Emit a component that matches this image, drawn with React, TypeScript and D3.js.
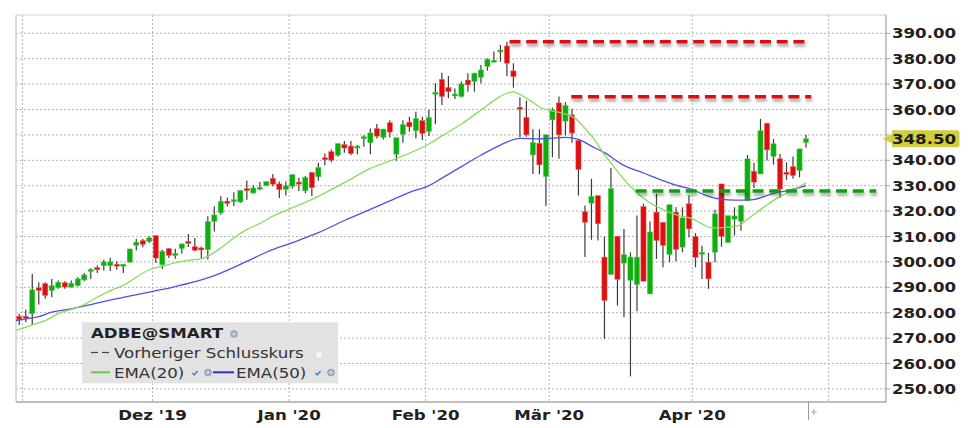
import React from 'react';
import * as d3 from 'd3';

// ---- Data ----
// Trading-day index 0 = 31 Oct 2019, last candle = index 121
const opens = [
  278.6, 278.6, 279.6, 289.8, 291.4, 288.7, 289.8, 291.8, 290.1, 290.7,
  292.9, 296.5, 297.7, 298.5, 298.5, 299.1, 298.7, 299.9, 306.5, 308.4,
  308.0, 310.3, 298.9, 305.2, 302.7, 305.2, 308.1, 306.0, 305.5, 304.8,
  316.0, 319.3, 323.9, 323.9, 323.6, 328.8, 327.1, 328.7, 330.0, 332.9,
  330.7, 328.5, 329.8, 331.4, 328.0, 335.2, 333.5, 341.0, 343.4, 342.0,
  346.2, 345.6, 345.1, 348.6, 346.9, 352.5, 349.0, 354.8, 342.4, 350.2,
  355.0, 351.6, 355.6, 351.3, 366.0, 371.9, 368.7, 365.5, 365.1, 371.6,
  371.0, 372.7, 376.9, 378.8, 382.8, 385.0, 375.2, 360.9, 356.9, 342.1,
  346.7, 333.6, 355.9, 362.6, 355.4, 357.9, 347.8, 319.8, 323.1, 326.1,
  301.9, 295.0, 310.1, 299.5, 292.7, 291.1, 321.8, 287.4, 319.6, 315.6,
  302.9, 319.6, 305.8, 322.9, 310.0, 303.3, 299.9, 303.8, 330.7, 307.7,
  316.8, 316.0, 324.1, 335.7, 334.6, 354.6, 341.5, 340.6, 335.3, 337.5,
  336.0, 347.0,
];
const highs = [
  279.6, 281.3, 295.3, 292.0, 292.0, 293.3, 292.7, 292.4, 292.7, 294.0,
  295.6, 297.5, 298.6, 300.8, 301.6, 300.3, 299.2, 305.2, 309.1, 309.1,
  310.0, 310.5, 304.8, 305.5, 305.2, 307.1, 311.0, 309.4, 306.1, 318.0,
  321.9, 325.8, 325.4, 327.4, 328.1, 332.0, 330.2, 331.5, 331.7, 334.6,
  331.7, 331.7, 334.4, 333.1, 333.8, 335.5, 339.0, 342.7, 344.3, 346.6,
  347.6, 347.6, 346.0, 349.9, 352.5, 354.3, 352.3, 355.8, 348.9, 355.8,
  357.1, 359.1, 357.1, 359.8, 370.3, 374.5, 373.2, 368.3, 371.0, 374.3,
  374.5, 377.5, 380.2, 382.8, 385.4, 386.7, 378.2, 364.8, 363.5, 352.2,
  352.2, 350.1, 360.7, 365.1, 362.9, 360.3, 347.8, 322.2, 332.7, 326.1,
  310.0, 337.0, 310.1, 313.0, 303.8, 318.3, 322.9, 315.9, 326.8, 315.6,
  322.5, 321.5, 321.5, 326.1, 311.3, 306.4, 303.5, 320.5, 330.7, 318.2,
  321.5, 322.4, 342.1, 339.0, 356.3, 354.6, 348.4, 342.5, 339.2, 341.5,
  344.5, 350.1,
];
const lows = [
  275.2, 276.3, 275.2, 283.2, 285.5, 286.1, 289.4, 289.4, 289.8, 290.3,
  292.4, 293.3, 295.6, 296.6, 296.4, 296.9, 295.6, 299.8, 304.5, 305.8,
  307.4, 299.6, 297.2, 301.5, 301.2, 303.3, 305.9, 304.2, 301.5, 300.9,
  312.0, 318.6, 321.9, 321.9, 323.2, 324.5, 326.9, 328.2, 329.8, 329.8,
  325.2, 326.1, 328.9, 327.9, 327.0, 325.9, 331.9, 338.1, 339.2, 341.4,
  343.0, 342.0, 342.4, 345.3, 342.4, 348.6, 348.2, 349.0, 339.8, 346.9,
  351.2, 348.6, 348.0, 349.6, 354.2, 361.8, 364.4, 364.1, 364.8, 367.0,
  367.0, 370.3, 375.3, 378.6, 378.8, 373.2, 368.6, 349.1, 349.3, 334.6,
  334.5, 322.0, 341.2, 340.6, 349.8, 346.9, 326.1, 301.9, 308.7, 308.4,
  269.7, 295.0, 282.8, 278.2, 254.9, 280.6, 292.4, 287.4, 301.2, 297.9,
  299.9, 300.3, 303.8, 309.7, 297.9, 293.3, 289.4, 299.9, 306.0, 307.3,
  310.4, 312.3, 324.1, 329.1, 334.6, 339.9, 338.3, 325.2, 332.3, 332.7,
  333.3, 344.9,
];
const closes = [
  277.2, 278.3, 289.0, 288.7, 286.8, 290.7, 292.0, 290.1, 291.6, 293.3,
  294.9, 297.0, 297.1, 300.0, 300.0, 298.6, 299.1, 305.1, 307.8, 306.9,
  309.5, 301.5, 304.2, 302.6, 303.3, 307.1, 307.3, 304.6, 304.8, 315.9,
  318.5, 323.9, 323.1, 324.5, 328.1, 328.2, 329.1, 329.4, 331.6, 330.6,
  328.5, 330.0, 334.4, 330.9, 333.3, 329.2, 337.2, 340.2, 340.1, 346.6,
  344.8, 342.7, 345.6, 349.3, 350.8, 349.5, 352.3, 351.1, 348.9, 354.1,
  353.2, 356.5, 350.6, 356.9, 366.8, 365.1, 367.0, 366.1, 370.1, 369.7,
  374.3, 375.6, 379.8, 379.4, 383.4, 378.2, 372.9, 360.4, 350.0, 347.0,
  338.2, 350.1, 359.9, 350.0, 361.6, 350.7, 336.4, 315.6, 325.8, 315.0,
  284.8, 328.8, 293.1, 302.9, 301.9, 301.9, 292.4, 311.8, 308.4, 306.5,
  322.5, 304.9, 317.3, 313.0, 301.8, 303.8, 293.3, 318.9, 310.0, 318.2,
  318.1, 322.2, 340.6, 331.4, 351.7, 344.1, 346.5, 328.7, 334.9, 334.0,
  344.5, 348.5,
];

// EMA readings: [trading-day index, value]
const ema20: [number, number][] = [
  [-0.5, 273.1], [0, 273.4], [2, 275.2], [4, 276.9], [6, 279.6], [8, 281.3],
  [10, 283.2], [12, 286.1], [14, 288.7], [16, 290.7], [18, 294.0], [20, 296.9],
  [22, 298.3], [25, 300.2], [27, 300.9], [28, 301.2], [29, 302.2], [31, 305.5],
  [33, 309.4], [35, 312.7], [37, 315.1], [39, 318.0], [41, 320.2], [45, 324.6],
  [50, 331.2], [54, 336.8], [58, 340.7], [63, 346.4], [65, 349.6], [68, 354.3],
  [71, 359.8], [73.5, 364.4], [75, 366.4], [76, 366.9], [77, 365.9], [78.6, 363.5],
  [80, 361.0], [82, 359.4], [84, 358.2], [85.5, 356.5], [87, 352.6], [88.5, 348.0],
  [90, 342.2], [91, 339.0], [92.5, 334.0], [94.6, 328.2], [96.7, 323.8], [98.7, 321.0],
  [101.3, 318.3], [103.5, 317.0], [105, 315.0], [106.5, 313.4], [108.6, 313.6],
  [110.6, 314.3], [112.4, 317.6], [114.5, 321.5], [116.8, 325.5], [118.9, 328.1],
  [121, 331.1],
];
const ema50: [number, number][] = [
  [-0.5, 276.9], [1, 277.6], [3, 278.5], [5, 280.2], [8, 281.5], [11, 283.2],
  [15, 285.5], [20, 288.1], [24, 290.3], [28, 292.9], [30, 294.6], [35, 300.2],
  [38, 303.8], [42, 307.6], [46, 311.5], [50, 316.3], [53, 319.6], [57, 324.0],
  [60, 327.4], [63, 330.0], [65, 333.0], [68, 337.5], [71, 342.0], [74, 346.0],
  [77, 348.6], [80, 348.4], [82, 348.7], [84, 349.0], [86, 348.2], [88, 345.6],
  [90, 343.0], [93, 338.0], [96, 335.0], [99, 332.0], [101, 330.2], [103.5, 328.5],
  [106, 325.8], [110, 324.3], [112.5, 324.4], [116, 327.0], [118.6, 328.3], [121, 330.0],
];

const yTicks = [250, 260, 270, 280, 290, 300, 310, 320, 330, 340, 350, 360, 370, 380, 390];
const monthStartIdx = [1, 21, 42, 63, 82, 104, 125];
const monthLabels = ['', "Dez '19", "Jan '20", "Feb '20", "Mär '20", "Apr '20", ''];

const levelValues = [386.7, 365.0, 327.9];
const levelFrom = [75.4, 84.9, 94.8];
const levelTo = [121.3, 121.8, 131.8];
const levelColors = ['#dd1010', '#dd1010', '#10a010'];

const lastPrice = 348.5;

// ---- Layout ----
const W = 978;
const H = 428;
const L = 16, R = 886, T = 15, B = 402;
const SX = 1.25; // horizontal stretch of text in the reference
const FS = 13.3;

const x = d3.scaleLinear().domain([-0.5, 133.3]).range([L, R]);
const y = d3.scaleLinear().domain([250, 390]).range([388.9, 33.3]);

function Txt(props: { x: number; y: number; anchor?: string; bold?: boolean; fill?: string; size?: number; children: React.ReactNode }) {
  return (
    <text
      transform={`translate(${props.x},${props.y}) scale(${SX},1)`}
      textAnchor={props.anchor || 'start'}
      fontWeight={props.bold ? 'bold' : 'normal'}
      fill={props.fill || '#222'}
      fontSize={props.size || FS}
    >
      {props.children}
    </text>
  );
}

function Globe({ cx, cy }: { cx: number; cy: number }) {
  return (
    <g>
      <circle cx={cx} cy={cy} r={3.3} fill="#9fb4cc" stroke="#6f86a6" strokeWidth={0.8} />
      <path d={`M${cx - 3},${cy} L${cx + 3},${cy} M${cx},${cy - 3} L${cx},${cy + 3}`} stroke="#dfe8f2" strokeWidth={0.6} />
    </g>
  );
}

function Check({ cx, cy }: { cx: number; cy: number }) {
  return <path d={`M${cx - 2.5},${cy} L${cx - 0.8},${cy + 2} L${cx + 2.5},${cy - 2}`} fill="none" stroke="#3a7fd8" strokeWidth={1.4} />;
}

export default function App() {
  const lineGen = d3
    .line<[number, number]>()
    .x((d) => x(d[0]))
    .y((d) => y(d[1]))
    .curve(d3.curveMonotoneX);

  const bodyW = 5.2;
  const yLast = y(lastPrice);

  return (
    <svg
      width={W}
      height={H}
      viewBox={`0 0 ${W} ${H}`}
      style={{ position: 'absolute', left: 0, top: 0, background: '#fff' }}
      fontFamily="'DejaVu Sans', Verdana, sans-serif"
    >
      <defs>
        <filter id="lvlShadow" filterUnits="userSpaceOnUse" x={0} y={0} width={W} height={H}>
          <feDropShadow dx={1} dy={3} stdDeviation={1.6} floodColor="#000" floodOpacity={0.35} />
        </filter>
        <clipPath id="plotClip">
          <rect x={L} y={T} width={R - L} height={B - T} />
        </clipPath>
      </defs>
      <rect x={0} y={0} width={W} height={H} fill="#fff" />

      {/* horizontal grid */}
      {yTicks.map((t) => (
        <line key={'h' + t} x1={L} x2={R} y1={y(t)} y2={y(t)} stroke="#b4b4b4" strokeWidth={1} strokeDasharray="2,2" />
      ))}
      {/* vertical grid */}
      {monthStartIdx.map((m) => (
        <line key={'v' + m} x1={x(m - 0.5)} x2={x(m - 0.5)} y1={T} y2={B} stroke="#b4b4b4" strokeWidth={1} strokeDasharray="2,2" />
      ))}

      {/* frame */}
      <line x1={L} x2={R} y1={T} y2={T} stroke="#d4d4d4" strokeWidth={1.2} />
      <line x1={L} x2={L} y1={T} y2={B} stroke="#d4d4d4" strokeWidth={1.6} />
      <line x1={R} x2={R} y1={T} y2={B + 0.5} stroke="#a8a8a8" strokeWidth={1.3} />
      <line x1={L} x2={R} y1={B} y2={B} stroke="#a8a8a8" strokeWidth={1.3} />

      {/* candles */}
      <g clipPath="url(#plotClip)">
        {closes.map((c, i) => {
          const o = opens[i];
          const up = c >= o;
          const cx = x(i);
          const top = y(Math.max(o, c));
          const h = Math.max(2, Math.abs(y(o) - y(c)));
          const col = up ? '#0fae0f' : '#dc1010';
          return (
            <g key={'c' + i}>
              <line x1={cx} x2={cx} y1={y(highs[i])} y2={y(lows[i])} stroke="#3c3c3c" strokeWidth={1.2} />
              <rect x={cx - bodyW / 2} y={top} width={bodyW} height={h} fill={col} stroke={up ? '#5fd05f' : '#ee6a6a'} strokeWidth={0.5} />
            </g>
          );
        })}

        {/* EMA lines */}
        <path d={lineGen(ema50) || ''} fill="none" stroke="#5050e6" strokeWidth={1.3} />
        <path d={lineGen(ema20) || ''} fill="none" stroke="#86dc60" strokeWidth={1.3} />

        {/* level lines */}
        {levelValues.map((v, k) => (
          <line
            key={'lv' + k}
            x1={x(levelFrom[k])}
            x2={x(levelTo[k])}
            y1={y(v)}
            y2={y(v)}
            stroke={levelColors[k]}
            strokeWidth={3.4}
            strokeDasharray="11,5.7"
            filter="url(#lvlShadow)"
          />
        ))}
      </g>

      {/* right axis ticks and labels (labels hidden where the last-price box covers them) */}
      {yTicks.map((t) => (
        <g key={'t' + t}>
          <line x1={R} x2={R + 4} y1={y(t)} y2={y(t)} stroke="#a8a8a8" strokeWidth={1} />
          {Math.abs(y(t) - yLast) > 14 ? (
            <Txt x={892} y={y(t) + 5} bold>{t.toFixed(2)}</Txt>
          ) : null}
        </g>
      ))}

      {/* last price marker */}
      <g>
        <path
          d={`M${R - 3.5},${yLast} L${892},${yLast - 4.5} L${892},${yLast - 8.5} L${957},${yLast - 8.5} Q${959.5},${yLast - 8.5} ${959.5},${yLast - 6} L${959.5},${yLast + 6} Q${959.5},${yLast + 8.5} ${957},${yLast + 8.5} L${892},${yLast + 8.5} L${892},${yLast + 4.5} Z`}
          fill="#cfcf3e"
        />
        <Txt x={892} y={yLast + 5.5} bold fill="#1a1a1a">{lastPrice.toFixed(2)}</Txt>
      </g>

      {/* month labels */}
      {monthStartIdx.map((m, k) =>
        monthLabels[k] ? (
          <Txt key={'m' + m} x={x(m - 0.5)} y={420} anchor="middle" bold>
            {monthLabels[k]}
          </Txt>
        ) : null
      )}

      {/* "now" marker below axis */}
      <line x1={808.5} x2={808.5} y1={B} y2={420} stroke="#9a9a9a" strokeWidth={1} />
      <path d="M814,409 L814,415 M811,412 L817,412" stroke="#b0b0b0" strokeWidth={1.2} />

      {/* legend */}
      <g>
        <rect x={82} y={322.3} width={256} height={61} fill="#e2e2e2" />
        <Txt x={91} y={338.3} bold fill="#222">ADBE@SMART</Txt>
        <Globe cx={234} cy={334} />

        <line x1={91} x2={98} y1={352.5} y2={352.5} stroke="#444" strokeWidth={1.2} />
        <line x1={102} x2={109} y1={352.5} y2={352.5} stroke="#444" strokeWidth={1.2} />
        <Txt x={114} y={357.6} fill="#333">Vorheriger Schlusskurs</Txt>
        <rect x={316} y={352} width={6} height={6} fill="#fafafa" stroke="#d8d8d8" strokeWidth={0.6} />

        <line x1={91} x2={110} y1={372.3} y2={372.3} stroke="#66cc44" strokeWidth={2} />
        <Txt x={114} y={377.7} fill="#333">EMA(20)</Txt>
        <Check cx={195} cy={373} />
        <Globe cx={208} cy={372.5} />
        <line x1={213} x2={234} y1={372.3} y2={372.3} stroke="#3333cc" strokeWidth={2} />
        <Txt x={236} y={377.7} fill="#333">EMA(50)</Txt>
        <Check cx={318} cy={373} />
        <Globe cx={331} cy={372.5} />
      </g>
    </svg>
  );
}
